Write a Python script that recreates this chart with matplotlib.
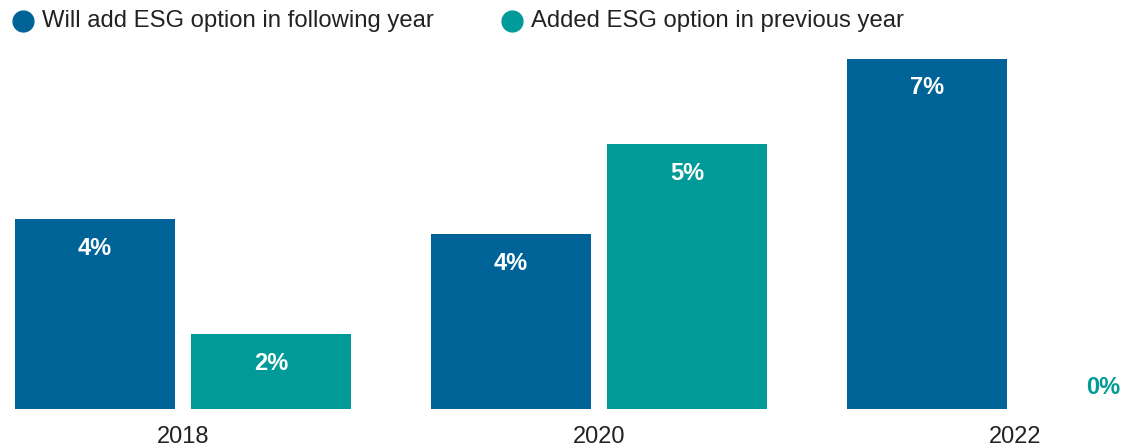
import matplotlib
matplotlib.use("Agg")
import matplotlib.pyplot as plt
from matplotlib.lines import Line2D
import numpy as np

plt.rcParams['font.family'] = ['Liberation Sans', 'DejaVu Sans']

# survey results, share of plans (%)
years = ['2018', '2020', '2022']
will_add = [3.8, 3.5, 7.0]
added_prev = [1.5, 5.3, 0.0]
series_names = ['Will add ESG option in following year',
                'Added ESG option in previous year']

BLUE = '#006398'
TEAL = '#009b98'
TEXT = '#222222'


def pct(v):
    # round half up, the way the labels are printed
    return '%d%%' % int(np.floor(v + 0.5))


W, H = 1133, 448
fig = plt.figure(figsize=(W / 100, H / 100), dpi=100)

# axes extends past the right edge so the last group is cut off
ax = fig.add_axes([0, 39 / H, 1, 350 / H])
x = np.arange(len(years))
bw = 160 / 416
off = 88 / 416

b1 = ax.bar(x - off, will_add, bw, color=BLUE)
b2 = ax.bar(x + off, added_prev, bw, color=TEAL)

ax.set_xlim(-183 / 416, (W - 183) / 416)
ax.set_ylim(0, 7.0)
ax.axis('off')

# value labels: inside the top of the bar, or above it when empty
for bars, vals, col in [(b1, will_add, BLUE), (b2, added_prev, TEAL)]:
    for rect, v in zip(bars, vals):
        cx = rect.get_x() + rect.get_width() / 2
        if v > 0:
            ax.annotate(pct(v), (cx, v), xytext=(0, -29), textcoords='offset pixels',
                        ha='center', va='center', color='white',
                        fontsize=17, fontweight='bold')
        else:
            ax.annotate(pct(v), (cx, v), xytext=(0, 22), textcoords='offset pixels',
                        ha='center', va='center', color=col,
                        fontsize=17, fontweight='bold')

# year labels under each group
for xi, yr in zip(x, years):
    ax.annotate(yr, (xi, 0), xytext=(0, -28), textcoords='offset pixels',
                ha='center', va='center', color=TEXT, fontsize=17)

# legend drawn by hand along the top
legend_items = [(23, series_names[0], BLUE), (512, series_names[1], TEAL)]
for px, label, col in legend_items:
    fig.add_artist(Line2D([px / W], [1 - 21 / H], marker='o', markersize=15,
                          color=col, transform=fig.transFigure))
    fig.text((px + 19) / W, 1 - 21 / H, label, ha='left', va='center',
             color=TEXT, fontsize=17.2)

fig.savefig('out.png', dpi=100)
